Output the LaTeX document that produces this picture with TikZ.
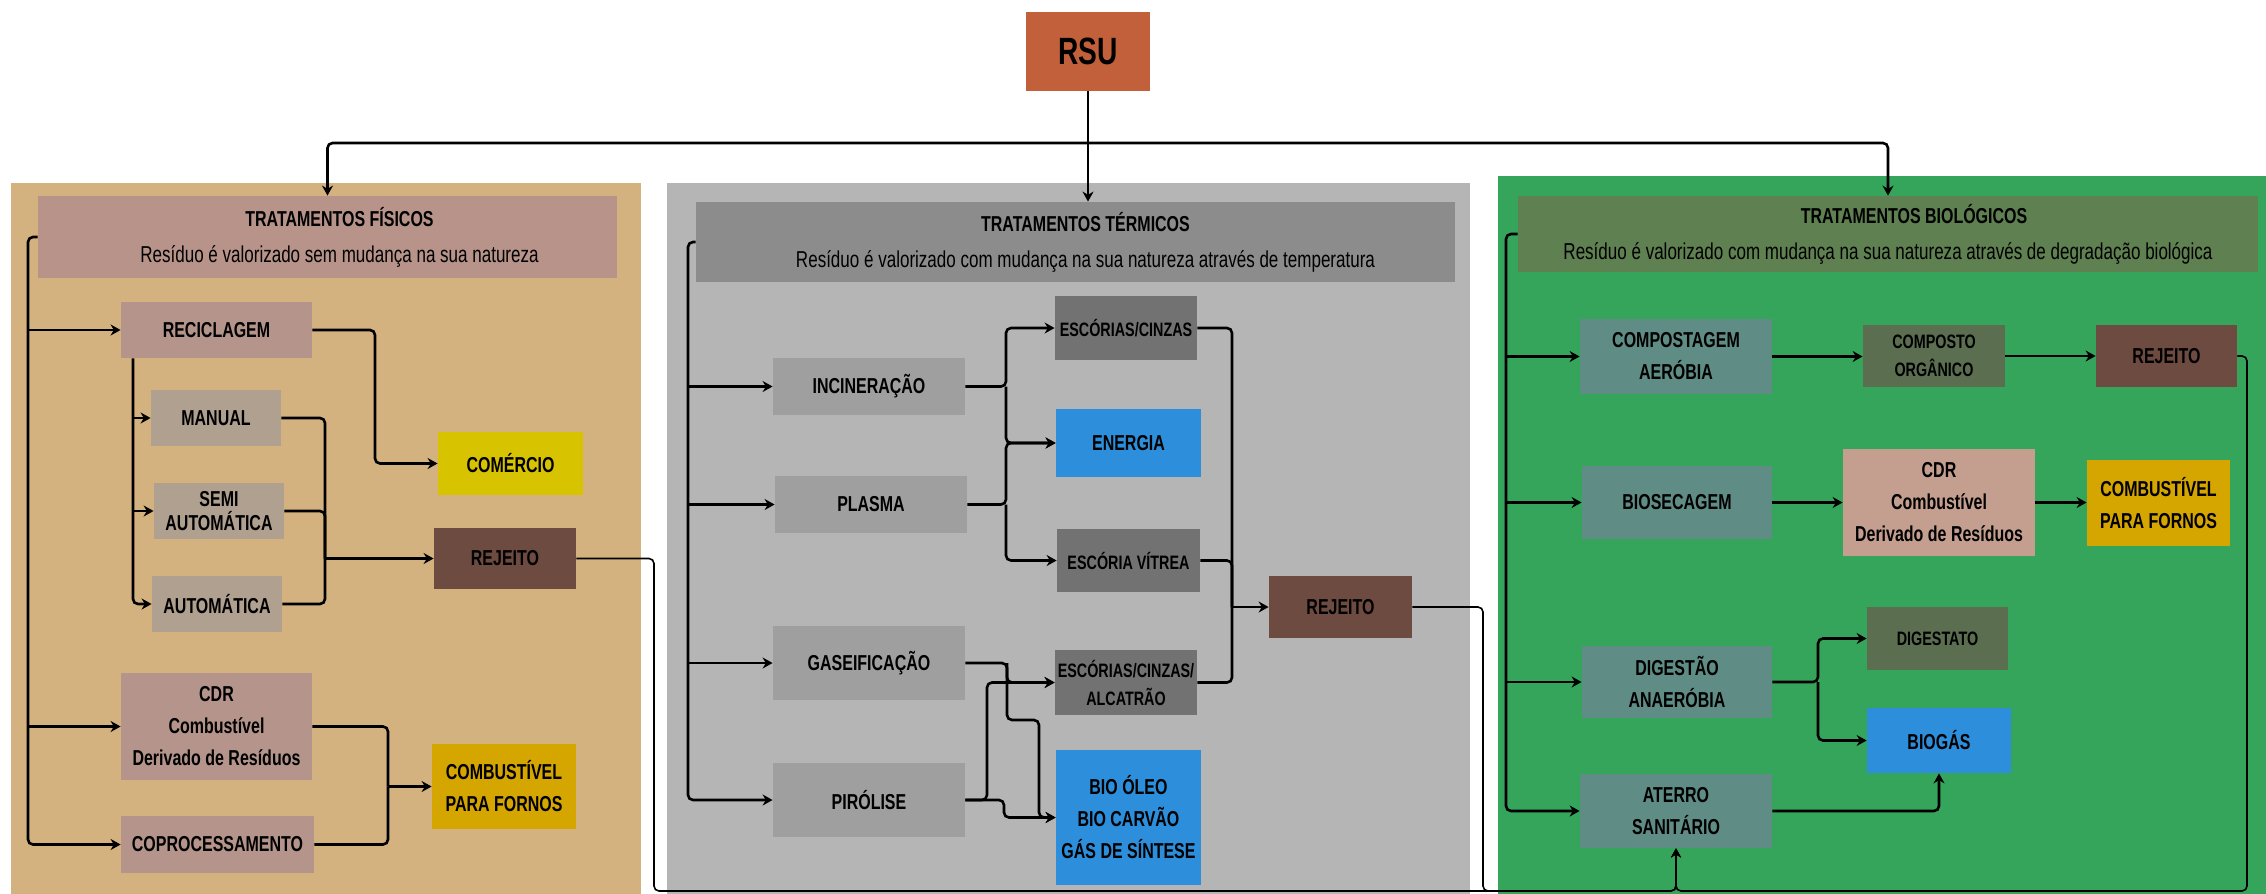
\documentclass[tikz,border=0pt]{standalone}
\usepackage{fontspec}
\setmainfont{Liberation Sans}[FakeStretch=0.74]
\usetikzlibrary{arrows.meta}
\definecolor{rsuc}{HTML}{C1603A}
\definecolor{physbg}{HTML}{D3B27F}
\definecolor{physhdr}{HTML}{B7938A}
\definecolor{physnode}{HTML}{B5958B}
\definecolor{subnode}{HTML}{AFA08F}
\definecolor{comercio}{HTML}{D8C300}
\definecolor{rejeito}{HTML}{6D4B41}
\definecolor{combust}{HTML}{D5A500}
\definecolor{thermbg}{HTML}{B5B5B5}
\definecolor{thermhdr}{HTML}{8C8C8C}
\definecolor{thermnode}{HTML}{9F9F9F}
\definecolor{thermdark}{HTML}{727272}
\definecolor{bluebox}{HTML}{2D8FDC}
\definecolor{biobg}{HTML}{35A55B}
\definecolor{biohdr}{HTML}{5F8050}
\definecolor{bionode}{HTML}{5F8C84}
\definecolor{biodark}{HTML}{5B6E50}
\definecolor{cdrbio}{HTML}{C49F8F}
\newcommand\nodefnt{\fontsize{10.8}{16}\selectfont\bfseries}
\newcommand\smallfnt{\fontsize{9.7}{14}\selectfont\bfseries}
\newcommand\hdrfnt{\fontsize{11.5}{18}\selectfont}
\newcommand\ttl[1]{{\fontsize{10.8}{18}\selectfont\bfseries #1}}
% \bx{style}{name}{x1}{y1}{x2}{y2}{text}
\newcommand\bx[7]{%
  \pgfmathsetmacro\bxcx{(#3+#5)/2}%
  \pgfmathsetmacro\bxcy{(#4+#6)/2}%
  \pgfmathsetmacro\bxw{(#5-#3)*0.5}%
  \pgfmathsetmacro\bxh{(#6-#4)*0.5}%
  \node[#1, minimum width=\bxw pt, minimum height=\bxh pt] (#2) at (\bxcx,\bxcy) {#7};}
\begin{document}
\begin{tikzpicture}[x=0.5pt,y=-0.5pt,
  box/.style={inner sep=0pt, align=center, text=black, font=\nodefnt},
  smallbox/.style={box, font=\smallfnt},
  hdr/.style={inner sep=0pt, align=center, text=black, font=\hdrfnt},
  arr/.style={line width=1.3pt, rounded corners=2.5pt, -{Stealth[length=5pt,width=5.5pt]}},
  ln/.style={line width=1.3pt, rounded corners=2.5pt},
  thinarr/.style={line width=0.8pt, rounded corners=2.5pt, -{Stealth[length=4.5pt,width=5pt]}}]
\useasboundingbox (0,0) rectangle (2266,894);
\fill[white] (0,0) rectangle (2266,894);
% panels
\fill[physbg] (11,183) rectangle (641,894);
\fill[thermbg] (667,183) rectangle (1470,894);
\fill[biobg] (1498,176) rectangle (2266,894);

% RSU
\bx{box, fill=rsuc, font=\fontsize{19}{22}\selectfont\bfseries}{rsu}{1026}{12}{1150}{91}{RSU}

% headers
\bx{hdr, fill=physhdr}{hf}{38}{196}{617}{278}{\hspace*{12pt}\ttl{TRATAMENTOS FÍSICOS}\\\hspace*{12pt}Resíduo é valorizado sem mudança na sua natureza}
\bx{hdr, fill=thermhdr}{ht}{696}{202}{1455}{282}{\hspace*{10pt}\ttl{TRATAMENTOS TÉRMICOS}\\\hspace*{10pt}Resíduo é valorizado com mudança na sua natureza através de temperatura}
\bx{hdr, fill=biohdr}{hb}{1518}{196}{2258}{272}{\hspace*{26pt}\ttl{TRATAMENTOS BIOLÓGICOS}\\Resíduo é valorizado com mudança na sua natureza através de degradação biológica}

% physical nodes
\bx{box, fill=physnode}{rec}{121}{302}{312}{358}{RECICLAGEM}
\bx{box, fill=subnode}{man}{151}{390}{281}{446}{MANUAL}
\bx{box, fill=subnode, font=\fontsize{10.8}{12}\selectfont\bfseries}{semi}{154}{483}{284}{539}{SEMI\\AUTOMÁTICA}
\bx{box, fill=subnode}{auto}{152}{576}{282}{632}{AUTOMÁTICA}
\bx{box, fill=physnode}{cdr}{121}{673}{312}{780}{CDR\\Combustível\\Derivado de Resíduos}
\bx{box, fill=physnode}{cop}{121}{816}{314}{873}{COPROCESSAMENTO}
\bx{box, fill=comercio}{com}{438}{432}{583}{495}{COMÉRCIO}
\bx{box, fill=rejeito}{rej1}{434}{528}{576}{589}{REJEITO}
\bx{box, fill=combust}{cmb1}{432}{744}{576}{829}{COMBUSTÍVEL\\PARA FORNOS}

% thermal nodes
\bx{box, fill=thermnode}{inc}{773}{358}{965}{415}{INCINERAÇÃO}
\bx{box, fill=thermnode}{pla}{775}{476}{967}{533}{PLASMA}
\bx{box, fill=thermnode}{gas}{773}{626}{965}{700}{GASEIFICAÇÃO}
\bx{box, fill=thermnode}{pir}{773}{763}{965}{837}{PIRÓLISE}
\bx{smallbox, fill=thermdark}{esc1}{1055}{296}{1197}{360}{ESCÓRIAS/CINZAS}
\bx{box, fill=bluebox}{ene}{1056}{409}{1201}{477}{ENERGIA}
\bx{smallbox, fill=thermdark}{vit}{1057}{529}{1200}{592}{ESCÓRIA VÍTREA}
\bx{smallbox, fill=thermdark}{esc3}{1055}{650}{1197}{715}{ESCÓRIAS/CINZAS/\\ALCATRÃO}
\bx{box, fill=bluebox}{bio}{1056}{750}{1201}{885}{BIO ÓLEO\\BIO CARVÃO\\GÁS DE SÍNTESE}
\bx{box, fill=rejeito}{rej2}{1269}{576}{1412}{638}{REJEITO}

% biological nodes
\bx{box, fill=bionode}{cpa}{1580}{319}{1772}{394}{COMPOSTAGEM\\AERÓBIA}
\bx{smallbox, fill=biodark}{cor}{1863}{325}{2005}{387}{COMPOSTO\\ORGÂNICO}
\bx{box, fill=rejeito}{rej3}{2096}{325}{2237}{387}{REJEITO}
\bx{box, fill=bionode}{bsc}{1582}{466}{1772}{539}{BIOSECAGEM}
\bx{box, fill=cdrbio}{cdr2}{1843}{449}{2035}{556}{CDR\\Combustível\\Derivado de Resíduos}
\bx{box, fill=combust}{cmb2}{2087}{460}{2230}{546}{COMBUSTÍVEL\\PARA FORNOS}
\bx{box, fill=bionode}{dig}{1582}{646}{1772}{718}{DIGESTÃO\\ANAERÓBIA}
\bx{smallbox, fill=biodark}{dgt}{1867}{607}{2008}{670}{DIGESTATO}
\bx{box, fill=bluebox}{bgs}{1867}{708}{2011}{773}{BIOGÁS}
\bx{box, fill=bionode}{ate}{1580}{774}{1772}{848}{ATERRO\\SANITÁRIO}

% junction coordinates
\coordinate (bus) at (0,143);
\coordinate (t1) at (28,0);
\coordinate (t2) at (133,0);
\coordinate (j1) at (375,0);
\coordinate (j2) at (325,0);
\coordinate (j2b) at (388,0);
\coordinate (t3) at (688,0);
\coordinate (j3) at (1006,0);
\coordinate (j4) at (1007,0);
\coordinate (k1) at (1039,720);
\coordinate (j6) at (987,0);
\coordinate (j7) at (1004,0);
\coordinate (j8) at (1232,0);
\coordinate (t4) at (1506,0);
\coordinate (j9) at (1818,0);
\coordinate (b1) at (654,0);
\coordinate (b2) at (1483,0);
\coordinate (b3) at (2247,0);
\coordinate (bot) at (0,891);

% top distribution
\draw[arr] (rsu.south) -- (rsu.south |- ht.north);
\draw[arr] (rsu.south |- bus) -| (hf.north);
\draw[arr] (rsu.south |- bus) -| (hb.north);

% physical connectors
\draw[arr] (hf.west) -| (t1 |- cop.west) -- (cop.west);
\draw[arr] (t1 |- rec.west) -- (rec.west);
\draw[arr] (t1 |- cdr.west) -- (cdr.west);
\draw[arr] (rec.south -| t2) |- (auto.west);
\draw[arr] (t2 |- man.west) -- (man.west);
\draw[arr] (t2 |- semi.west) -- (semi.west);
\draw[arr] (rec.east) -- (rec.east -| j1) |- (com.west);
\draw[ln] (man.east) -| (j2 |- rej1.west);
\draw[ln] (semi.east) -| (j2 |- rej1.west);
\draw[ln] (auto.east) -| (j2 |- rej1.west);
\draw[arr] (j2 |- rej1.west) -- (rej1.west);
\draw[ln] (cdr.east) -| (j2b |- cmb1.west);
\draw[ln] (cop.east) -| (j2b |- cmb1.west);
\draw[arr] (j2b |- cmb1.west) -- (cmb1.west);

% thermal connectors
\draw[arr] (ht.west) -| (t3 |- pir.west) -- (pir.west);
\draw[arr] (t3 |- inc.west) -- (inc.west);
\draw[arr] (t3 |- pla.west) -- (pla.west);
\draw[arr] (t3 |- gas.west) -- (gas.west);
\draw[arr] (inc.east) -- (inc.east -| j3) |- (esc1.west);
\draw[arr] (inc.east -| j3) |- (ene.west);
\draw[arr] (pla.east) -- (pla.east -| j3) |- (ene.west);
\draw[arr] (pla.east -| j3) |- (vit.west);
\draw[arr] (gas.east) -- (gas.east -| j4) |- (esc3.west);
\draw[arr] (gas.east -| j4) -- (j4 |- k1) -- (k1) |- (bio.west);
\draw[arr] (pir.east) -- (pir.east -| j6) |- (esc3.west);
\draw[arr] (pir.east) -- (pir.east -| j7) |- (bio.west);
\draw[ln] (esc1.east) -| (j8 |- rej2.west);
\draw[ln] (vit.east) -| (j8 |- rej2.west);
\draw[ln] (esc3.east) -| (j8 |- rej2.west);
\draw[arr] (j8 |- rej2.west) -- (rej2.west);

% biological connectors
\draw[arr] (hb.west) -| (t4 |- ate.west) -- (ate.west);
\draw[arr] (t4 |- cpa.west) -- (cpa.west);
\draw[arr] (t4 |- bsc.west) -- (bsc.west);
\draw[arr] (t4 |- dig.west) -- (dig.west);
\draw[arr] (cpa.east) -- (cor.west |- cpa.east);
\draw[arr] (cor.east) -- (rej3.west |- cor.east);
\draw[arr] (bsc.east) -- (cdr2.west |- bsc.east);
\draw[arr] (cdr2.east) -- (cmb2.west |- cdr2.east);
\draw[arr] (dig.east) -- (dig.east -| j9) |- (dgt.west);
\draw[arr] (dig.east -| j9) |- (bgs.west);
\draw[arr] (ate.east) -| (bgs.south);

% rejects to landfill
\draw[thinarr] (rej1.east) -- (rej1.east -| b1) -- (b1 |- bot) -- (ate.south |- bot) -- (ate.south);
\draw[thinarr] (rej2.east) -- (rej2.east -| b2) -- (b2 |- bot) -- (ate.south |- bot) -- (ate.south);
\draw[thinarr] (rej3.east) -- (rej3.east -| b3) -- (b3 |- bot) -- (ate.south |- bot) -- (ate.south);
\end{tikzpicture}
\end{document}
